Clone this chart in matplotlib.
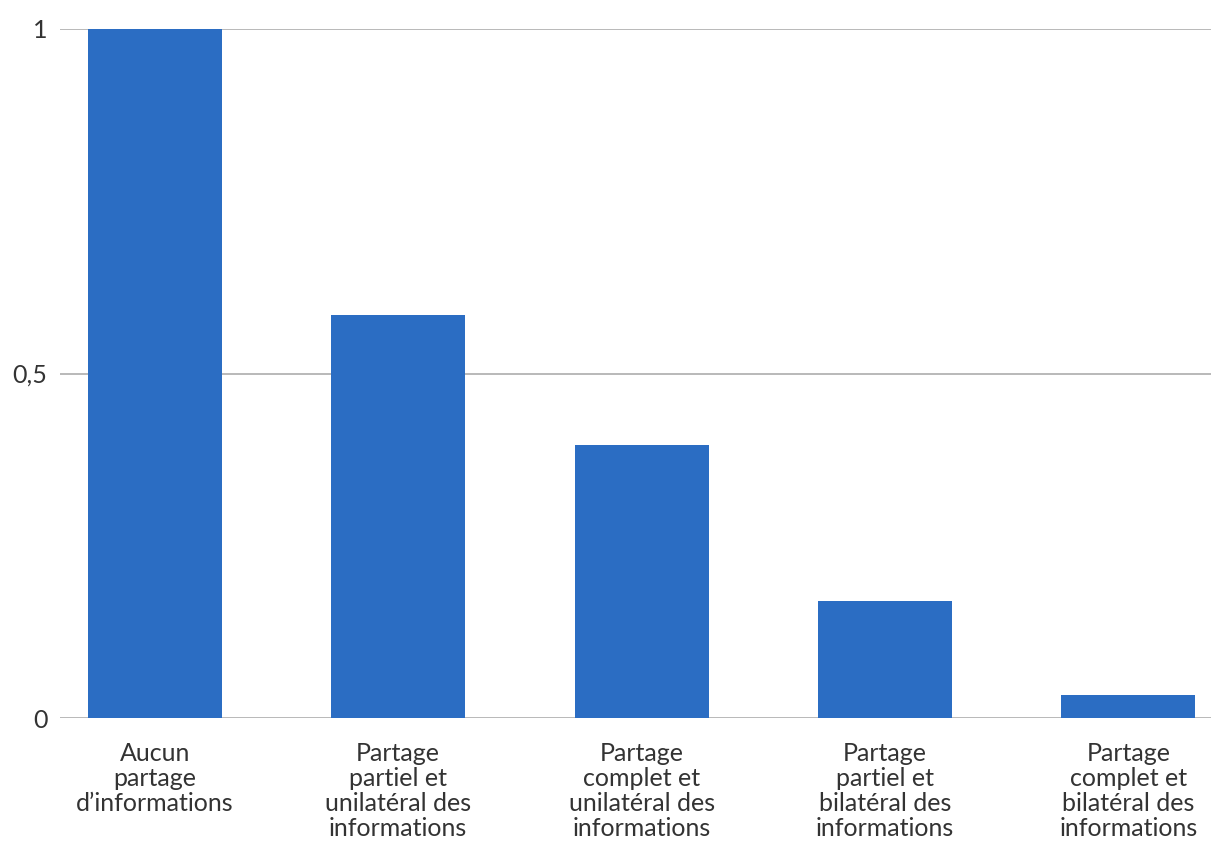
import matplotlib
matplotlib.use('Agg')
import matplotlib.pyplot as plt

# Data
categories = [
    'Aucun\npartage\nd\u2019informations',
    'Partage\npartiel et\nunilatéral des\ninformations',
    'Partage\ncomplet et\nunilatéral des\ninformations',
    'Partage\npartiel et\nbilatéral des\ninformations',
    'Partage\ncomplet et\nbilatéral des\ninformations',
]
values = [1.0, 0.585, 0.396, 0.170, 0.033]
yticks = [0, 0.5, 1]
ytick_labels = ['0', '0,5', '1']

bar_color = '#2B6DC3'
text_color = '#333333'
grid_color = '#A6A6A6'

plt.rcParams['font.family'] = ['Lato', 'DejaVu Sans']

fig = plt.figure(figsize=(12.11, 8.44), dpi=100)
ax = fig.add_axes([60 / 1211, 1 - 718 / 844, 1 - 60 / 1211, (718 - 29) / 844])

x = list(range(len(categories)))
ax.bar(x, values, width=0.55, color=bar_color, zorder=3)

ax.set_xlim(-0.39, 4.34)
ax.set_ylim(0, 1)
ax.set_yticks(yticks)
ax.set_yticklabels(ytick_labels, fontsize=18, color=text_color)
ax.set_xticks(x)
ax.set_xticklabels(categories, fontsize=18, color=text_color, linespacing=1.12)
ax.tick_params(axis='both', length=0)
ax.tick_params(axis='x', pad=17)
ax.tick_params(axis='y', pad=9)

ax.yaxis.grid(True, color=grid_color, linewidth=1.1, zorder=0)
for s in ax.spines.values():
    s.set_visible(False)

fig.savefig('out.png', dpi=100)
